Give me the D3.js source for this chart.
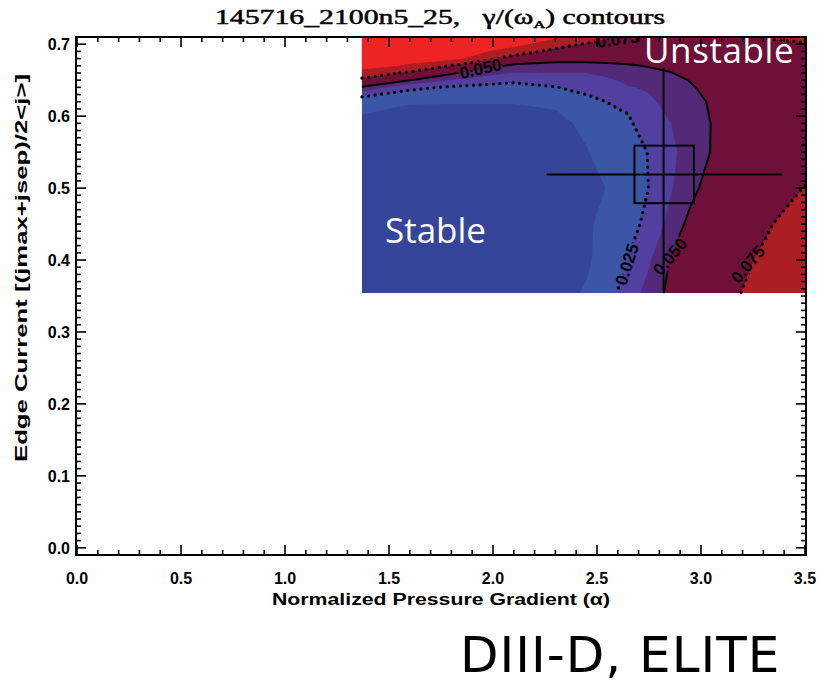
<!DOCTYPE html>
<html>
<head>
<meta charset="utf-8">
<script src="https://cdn.jsdelivr.net/npm/d3@7"></script>
<style>
  html, body { margin: 0; padding: 0; background: #fff; }
  svg { display: block; }
</style>
</head>
<body>
<svg id="chart" width="821" height="684"></svg>
<script>
// ELITE n=5..25 scan around equilibrium 145716 @ 2100 ms
// Columns: normalized pressure gradient alpha
const alphaGrid = [1.37, 1.6, 1.85, 2.1, 2.3, 2.45, 2.55, 2.65, 2.75, 2.85, 2.95, 3.05, 3.15, 3.25, 3.35, 3.5];
// Rows: edge current (jmax+jsep)/2<j>, top row first
const currentGrid = [0.71, 0.70, 0.69, 0.68, 0.67, 0.66, 0.65, 0.64, 0.62, 0.59, 0.55, 0.50, 0.45, 0.40, 0.354];
// Growth rate gamma/omega_A, one row per currentGrid entry
const growthRate = [
  [0.125, 0.121, 0.118, 0.113, 0.104, 0.0995, 0.0772, 0.0745, 0.070, 0.069, 0.070, 0.071, 0.072, 0.074, 0.0765, 0.078],
  [0.122, 0.118, 0.115, 0.108, 0.0861, 0.0723, 0.0686, 0.0679, 0.065, 0.065, 0.066, 0.067, 0.069, 0.071, 0.0725, 0.074],
  [0.120, 0.114, 0.110, 0.0893, 0.0675, 0.0634, 0.0614, 0.0613, 0.060, 0.060, 0.062, 0.064, 0.066, 0.068, 0.070, 0.071],
  [0.115, 0.108, 0.102, 0.0625, 0.055, 0.0545, 0.0543, 0.0546, 0.055, 0.056, 0.059, 0.061, 0.064, 0.066, 0.068, 0.069],
  [0.110, 0.0972, 0.0673, 0.0464, 0.0453, 0.0458, 0.0472, 0.0488, 0.0508, 0.0525, 0.056, 0.059, 0.062, 0.064, 0.066, 0.068],
  [0.091, 0.0708, 0.0486, 0.0372, 0.0374, 0.0376, 0.0403, 0.0446, 0.0469, 0.0495, 0.053, 0.057, 0.060, 0.063, 0.065, 0.067],
  [0.0688, 0.0502, 0.0347, 0.0279, 0.0309, 0.0333, 0.0355, 0.0404, 0.0431, 0.047, 0.0505, 0.055, 0.059, 0.062, 0.064, 0.066],
  [0.048, 0.028, 0.0225, 0.020, 0.0245, 0.0292, 0.0321, 0.0366, 0.0392, 0.045, 0.049, 0.053, 0.058, 0.061, 0.063, 0.065],
  [0.0135, 0.013, 0.013, 0.013, 0.014, 0.021, 0.0253, 0.027, 0.035, 0.042, 0.047, 0.051, 0.057, 0.061, 0.063, 0.065],
  [0.0118, 0.009, 0.008, 0.008, 0.010, 0.0145, 0.018, 0.0235, 0.030, 0.037, 0.045, 0.0502, 0.056, 0.060, 0.063, 0.066],
  [0.006, 0.005, 0.006, 0.007, 0.009, 0.012, 0.016, 0.020, 0.0255, 0.035, 0.042, 0.0505, 0.057, 0.061, 0.064, 0.068],
  [0.005, 0.005, 0.006, 0.007, 0.008, 0.010, 0.0128, 0.018, 0.0252, 0.036, 0.046, 0.056, 0.061, 0.065, 0.069, 0.0755],
  [0.005, 0.005, 0.006, 0.007, 0.009, 0.011, 0.0155, 0.021, 0.028, 0.041, 0.054, 0.060, 0.064, 0.069, 0.0752, 0.083],
  [0.004, 0.004, 0.005, 0.006, 0.008, 0.011, 0.017, 0.0255, 0.036, 0.0505, 0.058, 0.063, 0.068, 0.0748, 0.081, 0.089],
  [0.004, 0.004, 0.005, 0.006, 0.009, 0.0135, 0.020, 0.031, 0.042, 0.053, 0.059, 0.065, 0.072, 0.079, 0.085, 0.092]
];

// Filled bands (lower bound of each band) and their colours
const fillLevels = [0, 0.0125, 0.025, 0.0375, 0.05, 0.075, 0.1];
const fillColours = ["#35459a", "#3b56a6", "#5240a0", "#542a78", "#6f103a", "#ac1e24", "#ed2324"];
// Labelled contour lines
const lineLevels = [0.025, 0.05, 0.075];
const lineDotted = [true, false, true];

// Experimental operating point with uncertainty
const expAlpha = 2.82, expCurrent = 0.519;
const alphaBar = [2.258, 3.388], currentBar = [0.354, 0.667];
const alphaBox = [2.68, 2.966], currentBox = [0.479, 0.559];

// Axis ticks
const xMajor = [0, 0.5, 1.0, 1.5, 2.0, 2.5, 3.0, 3.5];
const yMajor = [0, 0.1, 0.2, 0.3, 0.4, 0.5, 0.6, 0.7];

// Contour label anchors (alpha, current, rotation in degrees)
const labelSpots = [
  { level: 0.05,  a: 1.94,  j: 0.666, rot: -13 },
  { level: 0.075, a: 2.60,  j: 0.707, rot: -8 },
  { level: 0.025, a: 2.644, j: 0.394, rot: -72 },
  { level: 0.05,  a: 2.851, j: 0.405, rot: -50 },
  { level: 0.075, a: 3.225, j: 0.394, rot: -50 }
];

const svg = d3.select("#chart");
const L = 76, R = 806, T = 37, B = 555;
const x = d3.scaleLinear().domain([-0.005, 3.505]).range([L, R]);
const y = d3.scaleLinear().domain([-0.01, 0.71]).range([B, T]);

const nx = alphaGrid.length, ny = currentGrid.length;
const flat = growthRate.flat();
const colScale = d3.scaleLinear().domain(d3.range(nx)).range(alphaGrid);
const rowScale = d3.scaleLinear().domain(d3.range(ny)).range(currentGrid);
// d3.contours puts sample i at i+0.5; the outer half cell collapses onto the grid edge
const toIdx = (c, n) => Math.max(0, Math.min(n - 1, c - 0.5));
const px = c => x(colScale(toIdx(c, nx)));
const py = r => y(rowScale(toIdx(r, ny)));

const gridPath = d3.geoPath(d3.geoTransform({
  point: function (cx, cy) { this.stream.point(px(cx), py(cy)); }
}));
const contours = d3.contours().size([nx, ny]);

const defs = svg.append("defs");
defs.append("clipPath").attr("id", "plotClip")
  .append("rect").attr("x", L).attr("y", T).attr("width", R - L).attr("height", B - T);

// Filled contour bands
const fills = svg.append("g").attr("clip-path", "url(#plotClip)");
fillLevels.forEach((lev, i) => {
  const geom = contours.thresholds([lev])(flat)[0];
  fills.append("path")
    .attr("d", gridPath(geom))
    .attr("fill", fillColours[i])
    .attr("fill-rule", "evenodd");
});

// Iso-line of one level, leaving out the pieces that run along the grid edge
function isoLine(level) {
  const geom = contours.thresholds([level])(flat)[0];
  const eps = 1e-9;
  const same = (u, v, target) => Math.abs(u - target) < eps && Math.abs(v - target) < eps;
  let d = "";
  geom.coordinates.forEach(poly => poly.forEach(ring => {
    let pen = false;
    for (let k = 0; k < ring.length - 1; k++) {
      const a = ring[k], b = ring[k + 1];
      const ax = toIdx(a[0], nx), ay = toIdx(a[1], ny);
      const bx = toIdx(b[0], nx), by = toIdx(b[1], ny);
      const onEdge = same(ax, bx, 0) || same(ax, bx, nx - 1) || same(ay, by, 0) || same(ay, by, ny - 1);
      if (onEdge) { pen = false; continue; }
      if (!pen) { d += `M${px(a[0]).toFixed(2)},${py(a[1]).toFixed(2)}`; pen = true; }
      d += `L${px(b[0]).toFixed(2)},${py(b[1]).toFixed(2)}`;
    }
  }));
  return d;
}

const fmtLevel = d3.format(".3f");
const labelFont = "'Liberation Sans', Arial, sans-serif";

// Mask that opens a gap in the lines under each label
const mask = defs.append("mask").attr("id", "labelGap")
  .attr("maskUnits", "userSpaceOnUse")
  .attr("x", 0).attr("y", 0).attr("width", 821).attr("height", 684);
mask.append("rect").attr("width", 821).attr("height", 684).attr("fill", "#fff");
labelSpots.forEach(s => {
  mask.append("text")
    .attr("transform", `translate(${x(s.a)},${y(s.j)}) rotate(${s.rot})`)
    .attr("text-anchor", "middle").attr("dy", "0.35em")
    .attr("font-family", labelFont).attr("font-weight", "bold").attr("font-size", 17)
    .attr("fill", "#000").attr("stroke", "#000").attr("stroke-width", 4)
    .text(fmtLevel(s.level));
});

const lines = svg.append("g").attr("clip-path", "url(#plotClip)")
  .append("g").attr("mask", "url(#labelGap)");
lineLevels.forEach((lev, i) => {
  const p = lines.append("path")
    .attr("d", isoLine(lev))
    .attr("fill", "none")
    .attr("stroke", "#000")
    .attr("stroke-linejoin", "round");
  if (lineDotted[i]) {
    p.attr("stroke-width", 3.2).attr("stroke-linecap", "round").attr("stroke-dasharray", "0.1 6.5");
  } else {
    p.attr("stroke-width", 2);
  }
});

// Contour labels
const labels = svg.append("g").attr("clip-path", "url(#plotClip)");
labelSpots.forEach(s => {
  labels.append("text")
    .attr("transform", `translate(${x(s.a)},${y(s.j)}) rotate(${s.rot})`)
    .attr("text-anchor", "middle").attr("dy", "0.35em")
    .attr("font-family", labelFont).attr("font-weight", "bold").attr("font-size", 17)
    .attr("fill", "#000")
    .text(fmtLevel(s.level));
});

// Operating point: error bars and uncertainty box
const op = svg.append("g").attr("stroke", "#000").attr("stroke-width", 2).attr("fill", "none");
op.append("line").attr("x1", x(alphaBar[0])).attr("x2", x(alphaBar[1]))
  .attr("y1", y(expCurrent)).attr("y2", y(expCurrent));
op.append("line").attr("x1", x(expAlpha)).attr("x2", x(expAlpha))
  .attr("y1", y(currentBar[0])).attr("y2", y(currentBar[1]));
op.append("rect").attr("x", x(alphaBox[0])).attr("y", y(currentBox[1]))
  .attr("width", x(alphaBox[1]) - x(alphaBox[0]))
  .attr("height", y(currentBox[0]) - y(currentBox[1]));

// Region captions
const capFont = "'Open Sans', 'Noto Sans', sans-serif";
svg.append("text").attr("x", 644).attr("y", 63)
  .attr("font-family", capFont).attr("font-size", 35).attr("fill", "#fff")
  .attr("letter-spacing", 0.6)
  .text("Unstable");
svg.append("text").attr("x", 385).attr("y", 243)
  .attr("font-family", capFont).attr("font-size", 35).attr("fill", "#fff")
  .text("Stable");

// Axes frame with inward ticks on all four sides
const ax = svg.append("g").attr("stroke", "#000").attr("stroke-width", 1.6);
const xMinor = d3.range(0, 3.5001, 0.1).filter(v => !xMajor.some(m => Math.abs(m - v) < 1e-6));
const yMinor = d3.range(0, 0.7101, 0.01).filter(v => !yMajor.some(m => Math.abs(m - v) < 1e-6));
const tick = (list, len) => list.forEach(v => {
  ax.append("line").attr("x1", x(v)).attr("x2", x(v)).attr("y1", B).attr("y2", B - len);
  ax.append("line").attr("x1", x(v)).attr("x2", x(v)).attr("y1", T).attr("y2", T + len);
});
const ytick = (list, len) => list.forEach(v => {
  ax.append("line").attr("y1", y(v)).attr("y2", y(v)).attr("x1", L).attr("x2", L + len);
  ax.append("line").attr("y1", y(v)).attr("y2", y(v)).attr("x1", R).attr("x2", R - len);
});
tick(xMajor, 10); tick(xMinor, 5);
ytick(yMajor, 10); ytick(yMinor, 5);
ax.append("rect").attr("x", L).attr("y", T).attr("width", R - L).attr("height", B - T)
  .attr("fill", "none").attr("stroke-width", 2);

const axisFont = "'Liberation Sans', Arial, sans-serif";
const fmtTick = d3.format(".1f");
svg.append("g").selectAll("text").data(xMajor).join("text")
  .attr("x", d => x(d)).attr("y", 584)
  .attr("text-anchor", "middle")
  .attr("font-family", axisFont).attr("font-weight", "bold").attr("font-size", 16)
  .text(fmtTick);
svg.append("g").selectAll("text").data(yMajor).join("text")
  .attr("x", 70).attr("y", d => y(d)).attr("dy", "0.36em")
  .attr("text-anchor", "end")
  .attr("font-family", axisFont).attr("font-weight", "bold").attr("font-size", 16)
  .text(fmtTick);

svg.append("text").attr("x", 441).attr("y", 605)
  .attr("text-anchor", "middle")
  .attr("font-family", axisFont).attr("font-weight", "bold").attr("font-size", 16)
  .attr("textLength", 338).attr("lengthAdjust", "spacingAndGlyphs")
  .text("Normalized Pressure Gradient (α)");
svg.append("text").attr("transform", "translate(27,268) rotate(-90)")
  .attr("text-anchor", "middle")
  .attr("font-family", axisFont).attr("font-weight", "bold").attr("font-size", 16)
  .attr("textLength", 388).attr("lengthAdjust", "spacingAndGlyphs")
  .text("Edge Current [(jmax+jsep)/2<j>]");

// Title
const title = svg.append("text").attr("x", 440).attr("y", 24)
  .attr("text-anchor", "middle")
  .attr("font-family", "'Liberation Serif', 'DejaVu Serif', serif").attr("font-size", 20)
  .attr("stroke", "#000").attr("stroke-width", 0.45)
  .attr("textLength", 450).attr("lengthAdjust", "spacingAndGlyphs");
title.append("tspan").text("145716_2100n5_25,\u00a0\u00a0 γ/(ω");
title.append("tspan").attr("font-size", 11).attr("dy", 4).text("A");
title.append("tspan").attr("dy", -4).text(") contours");

// Footer
svg.append("text").attr("x", 460).attr("y", 672)
  .attr("font-family", "'DejaVu Sans', Verdana, sans-serif").attr("font-size", 50)
  .attr("letter-spacing", 1)
  .attr("fill", "#000")
  .text("DIII-D, ELITE");
</script>
</body>
</html>
